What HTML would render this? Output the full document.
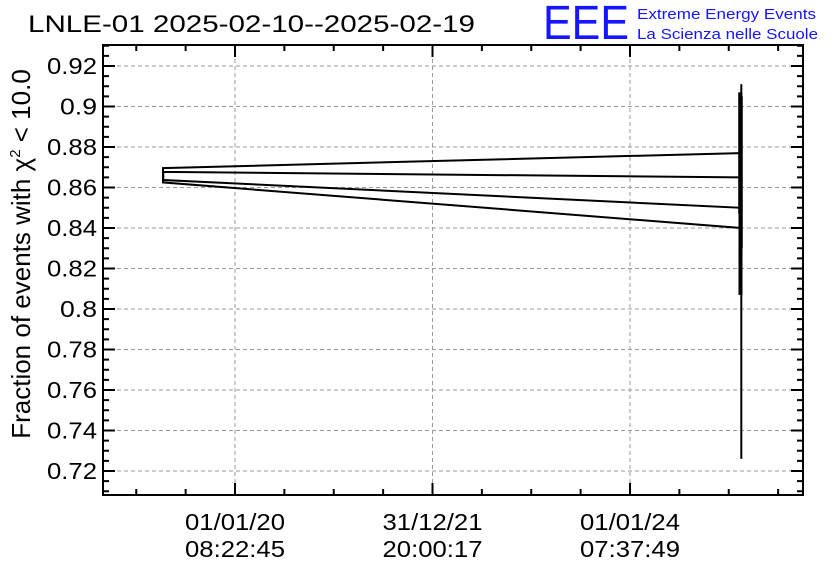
<!DOCTYPE html>
<html><head><meta charset="utf-8"><style>
body{margin:0;background:#fff;}
svg{display:block;font-family:"Liberation Sans",sans-serif;}
</style></head><body>
<svg id="chart" width="836" height="572" viewBox="0 0 836 572" xmlns="http://www.w3.org/2000/svg">
<text x="28" y="32" font-size="24" textLength="447" lengthAdjust="spacingAndGlyphs">LNLE-01 2025-02-10--2025-02-19</text>
<text x="543" y="39" font-size="48" fill="#1515ff" textLength="86" lengthAdjust="spacingAndGlyphs">EEE</text>
<text x="637" y="19" font-size="15" fill="#1515ff" textLength="179" lengthAdjust="spacingAndGlyphs">Extreme Energy Events</text>
<text x="637" y="39" font-size="15" fill="#1515ff" textLength="181" lengthAdjust="spacingAndGlyphs">La Scienza nelle Scuole</text>
<text transform="translate(30,254) rotate(-90)" text-anchor="middle" font-size="26">Fraction of events with χ<tspan font-size="15" dy="-10">2</tspan><tspan dy="10"> &lt; 10.0</tspan></text>
<g id="grid"></g><g id="ticks"></g><g id="marks"></g>
<rect x="103" y="45" width="700" height="450" fill="none" stroke="#000" stroke-width="2"/>
</svg>
<script>
const xTickLabels = [["01/01/20","08:22:45"],["31/12/21","20:00:17"],["01/01/24","07:37:49"]];
const xTickTimes = ["2020-01-01T08:22:45Z","2021-12-31T20:00:17Z","2024-01-01T07:37:49Z"];
const yTicks = [0.72,0.74,0.76,0.78,0.8,0.82,0.84,0.86,0.88,0.9,0.92];
const yTickLabels = ["0.72","0.74","0.76","0.78","0.8","0.82","0.84","0.86","0.88","0.9","0.92"];
const pointTimes = ["2025-02-12T00:00:00Z","2019-04-10T00:00:00Z","2019-04-10T00:00:00Z","2025-02-16T00:00:00Z","2025-02-14T00:00:00Z","2019-04-11T00:00:00Z","2019-04-11T00:00:00Z","2025-02-13T00:00:00Z"];
const pointValues = [0.877,0.8696,0.8625,0.840,0.850,0.8637,0.8677,0.865];
const errLow = [0.03,0,0,0.114,0.02,0,0,0.058];
const errHigh = [0.03,0,0,0.071,0.055,0,0,0.035];
const errWidth = [4,0,0,2,4,0,0,4];

const X0=103,X1=803,Y0=45,Y1=495;
const tA=Date.parse(xTickTimes[0]), tB=Date.parse(xTickTimes[1]);
function xs(t){return 235+(Date.parse(t)-tA)/(tB-tA)*197.5;}
function ys(v){return 471-(v-0.72)*2025;}
const NS="http://www.w3.org/2000/svg";
function el(tag,attrs,parent){const e=document.createElementNS(NS,tag);for(const k in attrs)e.setAttribute(k,attrs[k]);document.getElementById(parent).appendChild(e);return e;}
yTicks.forEach((v,i)=>{const y=ys(v);
 const g=el('line',{x1:X0,x2:X1,y1:y,y2:y,stroke:'#999','stroke-dasharray':'4,3','stroke-width':1},'grid');
 
 
 const t=el('text',{x:97,y:y+8,'text-anchor':'end','font-size':23,textLength:yTickLabels[i].length>3?50:37,lengthAdjust:'spacingAndGlyphs'},'ticks');
 t.textContent=yTickLabels[i];
 
 
});
for(let v=0.705;v<0.931;v+=0.005){const y=ys(v);if(y<Y0||y>Y1)continue;
 const major=Math.abs(Math.round(v*1000)%20)<1;const L=major?12:6;
 el('path',{d:`M${X0} ${y}h${L}M${X1} ${y}h${-L}`,stroke:'#000','stroke-width':2},'ticks');}
xTickTimes.forEach((ts,i)=>{const x=xs(ts);
 const g=el('line',{x1:x,x2:x,y1:Y0,y2:Y1,stroke:'#999','stroke-dasharray':'4,3','stroke-width':1},'grid');
 
 
 const t=el('text',{x:x,y:530,'text-anchor':'middle','font-size':23,textLength:100,lengthAdjust:'spacingAndGlyphs'},'ticks');
 t.textContent=xTickLabels[i][0];
 
 
 const t2=el('text',{x:x,y:557,'text-anchor':'middle','font-size':23,textLength:100,lengthAdjust:'spacingAndGlyphs'},'ticks');
 t2.textContent=xTickLabels[i][1];
 
 
});
for(let k=-8;k<16;k++){const x=235+k*197.5/4;if(x<X0||x>X1)continue;const L=(k%4===0)?12:6;
 el('path',{d:`M${x} ${Y1}v${-L}M${x} ${Y0}v${L}`,stroke:'#000','stroke-width':2},'ticks');}
const pts=pointTimes.map((t,i)=>xs(t).toFixed(1)+','+ys(pointValues[i]).toFixed(1)).join(' ');
const pl=el('polyline',{points:pts,fill:'none',stroke:'#000','stroke-width':2},'marks');


pointTimes.forEach((t,i)=>{if(!errLow[i]&&!errHigh[i])return;const x=xs(t);
 const e=el('line',{x1:x,x2:x,y1:ys(pointValues[i]+errHigh[i]),y2:ys(pointValues[i]-errLow[i]),stroke:'#000','stroke-width':errWidth[i]},'marks');
 
 
});
</script>
</body></html>
